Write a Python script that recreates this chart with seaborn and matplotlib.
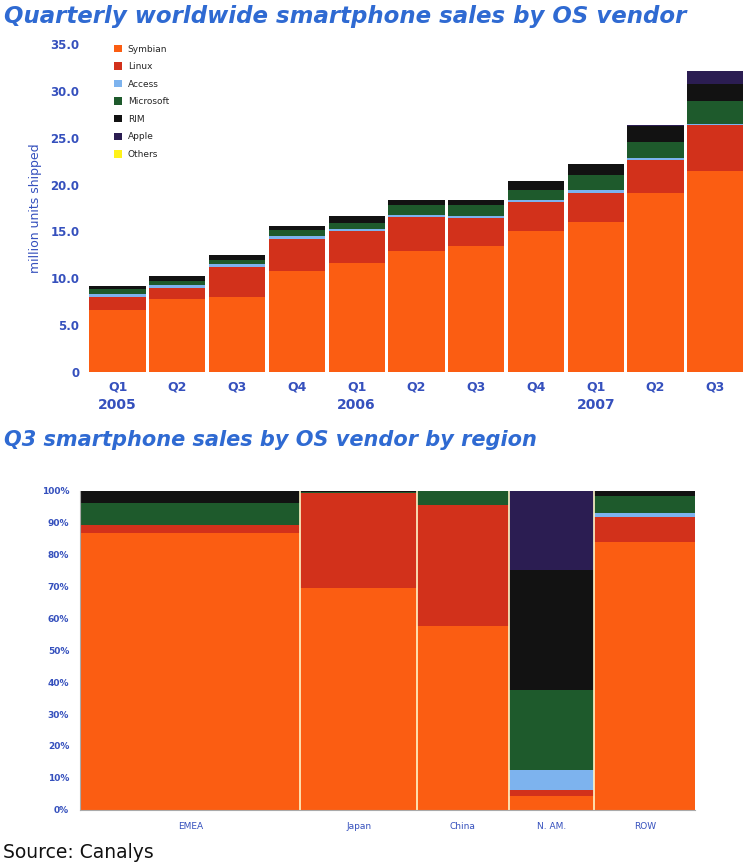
import numpy as np
import pandas as pd
import seaborn as sns
import matplotlib.pyplot as plt
from matplotlib.patches import Patch

# Données (millions d'unités)
quarters = ['Q1', 'Q2', 'Q3', 'Q4', 'Q1', 'Q2', 'Q3', 'Q4', 'Q1', 'Q2', 'Q3']
years = ['2005', '', '', '', '2006', '', '', '', '2007', '', '']
vendors = ['Symbian', 'Linux', 'Access', 'Microsoft', 'RIM', 'Apple', 'Others']
symbian = [6.6, 7.8, 8.0, 10.8, 11.6, 12.9, 13.5, 15.0, 16.0, 19.1, 21.5]
linux = [1.4, 1.2, 3.2, 3.4, 3.4, 3.6, 2.9, 3.2, 3.1, 3.5, 4.9]
access = [0.3, 0.3, 0.3, 0.3, 0.3, 0.3, 0.3, 0.2, 0.3, 0.3, 0.1]
microsoft = [0.6, 0.4, 0.5, 0.7, 0.6, 1.0, 1.1, 1.0, 1.6, 1.7, 2.4]
rim = [0.3, 0.5, 0.5, 0.4, 0.8, 0.6, 0.6, 1.0, 1.2, 1.7, 1.8]
apple = [0, 0, 0, 0, 0, 0, 0, 0, 0, 0.05, 1.4]
others = [0.0] * 11

# Q3 2007 par région (%), largeur = poids de la région
regions = ['EMEA', 'Japan', 'China', 'N. AM.', 'ROW']
region_width = [35.8, 18.9, 15.0, 13.8, 16.5]
reg_symbian = [86.6, 69.5, 57.7, 4.4, 83.8]
reg_linux = [2.7, 29.7, 37.9, 1.7, 8.1]
reg_access = [0.0, 0.0, 0.0, 6.4, 1.2]
reg_microsoft = [6.8, 0.4, 4.4, 25.1, 5.3]
reg_rim = [3.9, 0.4, 0.0, 37.6, 1.6]
reg_apple = [0.0, 0.0, 0.0, 24.8, 0.0]
reg_others = [0.0, 0.0, 0.0, 0.0, 0.0]

COLORS = ['#fb5d12', '#d2311b', '#7db3ee', '#1e5a2c', '#121212', '#2b1d52', '#fff21a']
BLUE = '#3550bd'
TITLE_BLUE = '#2f6ad2'

sns.set_theme(style='white')
plt.rcParams['font.family'] = ['DejaVu Sans']

fig = plt.figure(figsize=(7.43, 8.67), dpi=100)

# --- graphique du haut : barres empilées ---
ax1 = fig.add_axes([0.118, 0.571, 0.885, 0.378])
series = [symbian, linux, access, microsoft, rim, apple, others]
df = pd.DataFrame(dict(zip(vendors, series)))
df['slot'] = [f'{y}{q}{i}' for i, (q, y) in enumerate(zip(quarters, years))]
cum = df[vendors].cumsum(axis=1)

# on dessine du haut de la pile vers le bas
for v, c in reversed(list(zip(vendors, COLORS))):
    sns.barplot(x=df['slot'], y=cum[v], color=c, saturation=1, width=0.94,
                errorbar=None, ax=ax1, linewidth=0)

ax1.set_xlim(-0.5, len(quarters) - 0.5)
ax1.set_ylim(0, 35)
ax1.set_yticks(np.arange(0, 36, 5))
ax1.set_yticklabels(['0'] + [f'{t:.1f}' for t in np.arange(5, 36, 5)],
                    color=BLUE, fontsize=8.5, fontweight='bold')
ax1.set_xticks(range(len(quarters)))
ax1.set_xticklabels(quarters, color=BLUE, fontsize=9, fontweight='bold')
ax1.tick_params(axis='both', length=0, pad=6)
ax1.set_xlabel('')
ax1.set_ylabel('million units shipped', color=BLUE, fontsize=9, labelpad=6)
for i, y in enumerate(years):
    if y:
        ax1.text(i, -0.1, y, transform=ax1.get_xaxis_transform(), ha='center',
                 va='center', color=BLUE, fontsize=10, fontweight='bold')
for s in ax1.spines.values():
    s.set_visible(False)

handles = [Patch(facecolor=c, edgecolor='none') for c in COLORS]
ax1.legend(handles, vendors, loc='upper left', bbox_to_anchor=(0.035, 1.01),
           frameon=False, fontsize=6.5, handlelength=0.9, handleheight=0.9,
           handletextpad=0.6, labelspacing=0.95, borderaxespad=0)

fig.text(0.006, 0.981, 'Quarterly worldwide smartphone sales by OS vendor',
         color=TITLE_BLUE, fontsize=16.5, fontweight='bold', style='italic', va='center')

# --- graphique du bas : marimekko ---
ax2 = fig.add_axes([0.108, 0.066, 0.828, 0.368])
reg_series = [reg_symbian, reg_linux, reg_access, reg_microsoft, reg_rim, reg_apple, reg_others]
widths = np.array(region_width)
lefts = np.concatenate([[0], np.cumsum(widths)[:-1]])
bottom = np.zeros(len(regions))
for vals, c in zip(reg_series, COLORS):
    vals = np.array(vals)
    ax2.bar(lefts, vals, width=widths, bottom=bottom, align='edge', color=c,
            edgecolor='none', linewidth=0)
    bottom += vals
for x in lefts[1:]:
    ax2.axvline(x, color='#fff6c8', lw=1.2)

ax2.set_xlim(0, widths.sum())
ax2.set_ylim(0, 100)
ax2.set_yticks(range(0, 101, 10))
ax2.set_yticklabels([f'{t}%' for t in range(0, 101, 10)], color=BLUE,
                    fontsize=6.5, fontweight='bold')
ax2.set_xticks(lefts + widths / 2)
ax2.set_xticklabels(regions, color=BLUE, fontsize=6.5)
ax2.tick_params(axis='y', length=2, color='#999999', pad=6)
ax2.tick_params(axis='x', length=0, pad=9)
for name, s in ax2.spines.items():
    s.set_visible(name in ('left', 'bottom'))
    s.set_color('#aaaaaa')
    s.set_linewidth(0.8)

fig.text(0.006, 0.493, 'Q3 smartphone sales by OS vendor by region',
         color=TITLE_BLUE, fontsize=15, fontweight='semibold', style='italic', va='center')
fig.text(0.004, 0.017, 'Source: Canalys', color='#111111', fontsize=13.5, va='center')

fig.savefig('out.png', dpi=100)
